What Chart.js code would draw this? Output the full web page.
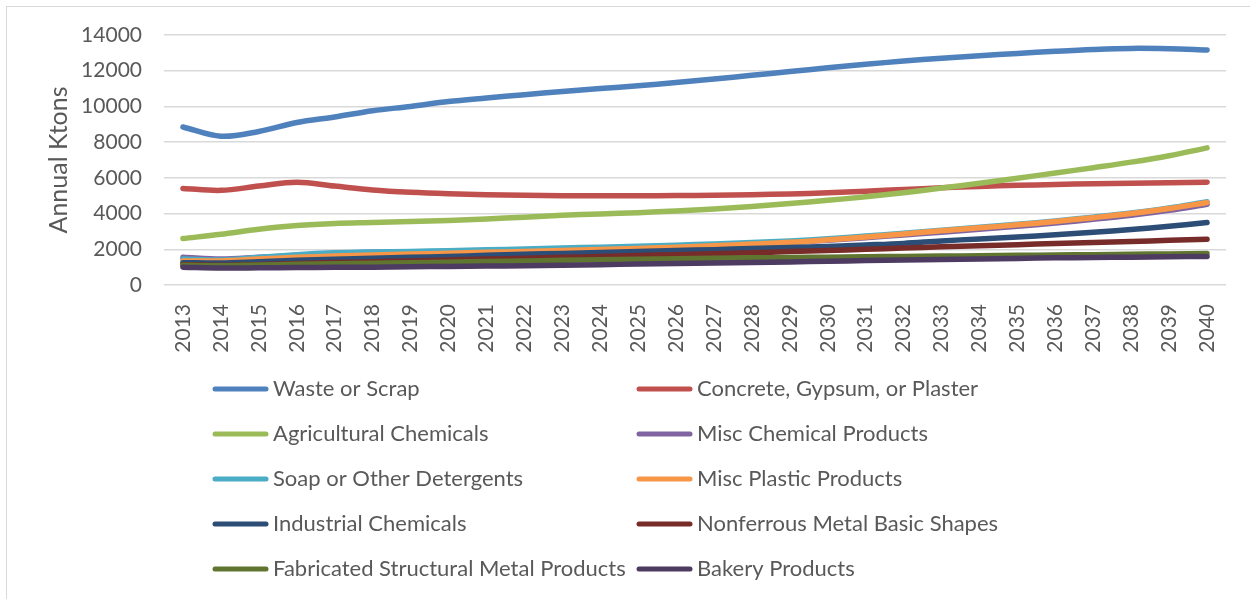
<!DOCTYPE html>
<html>
<head>
<meta charset="utf-8">
<script src="https://cdn.jsdelivr.net/npm/chart.js@4.4.1/dist/chart.umd.min.js"></script>
<style>
  html, body { margin: 0; padding: 0; background: #fff; overflow: hidden; }
  #frame { position: absolute; left: 6px; top: 6px; width: 1300px; height: 700px; border: 1px solid #d9d9d9; }
  #wrap { position: absolute; left: 0; top: 0; width: 1250px; height: 599px; }
</style>
</head>
<body>
<div id="frame"></div>
<div id="wrap"><canvas id="freightChart" width="1250" height="599"></canvas></div>
<script>
// Annual freight tonnage forecast by commodity (Ktons)
const years = ['2013', '2014', '2015', '2016', '2017', '2018', '2019', '2020', '2021', '2022',
  '2023', '2024', '2025', '2026', '2027', '2028', '2029', '2030', '2031', '2032',
  '2033', '2034', '2035', '2036', '2037', '2038', '2039', '2040'];

const wasteScrap = [8850, 8330, 8600, 9100, 9410, 9760, 10000, 10270, 10470, 10660,
  10840, 11000, 11160, 11340, 11530, 11740, 11950, 12160, 12360, 12540,
  12700, 12840, 12970, 13090, 13190, 13250, 13230, 13160];
const concrete = [5410, 5300, 5540, 5760, 5540, 5320, 5190, 5110, 5060, 5030,
  5000, 5000, 5000, 5010, 5030, 5060, 5100, 5160, 5250, 5350,
  5440, 5520, 5580, 5630, 5670, 5700, 5730, 5760];
const agChemicals = [2600, 2840, 3120, 3330, 3450, 3500, 3550, 3610, 3700, 3800,
  3900, 3980, 4050, 4150, 4260, 4400, 4560, 4740, 4940, 5170,
  5430, 5700, 5980, 6270, 6570, 6880, 7240, 7680];
const miscChemical = [1550, 1450, 1550, 1650, 1780, 1830, 1850, 1880, 1920, 1960,
  2000, 2050, 2100, 2160, 2230, 2310, 2400, 2510, 2650, 2800,
  2960, 3120, 3290, 3470, 3680, 3910, 4180, 4520];
const soapDetergents = [1450, 1400, 1550, 1700, 1800, 1850, 1880, 1920, 1970, 2020,
  2070, 2120, 2170, 2230, 2300, 2380, 2470, 2590, 2740, 2900,
  3070, 3230, 3400, 3590, 3800, 4030, 4310, 4660];
const miscPlastic = [1350, 1350, 1450, 1550, 1620, 1680, 1730, 1780, 1830, 1880,
  1930, 1990, 2050, 2120, 2200, 2290, 2390, 2530, 2690, 2860,
  3040, 3200, 3370, 3560, 3770, 4000, 4280, 4620];
const industrialChem = [1250, 1230, 1300, 1380, 1440, 1500, 1550, 1600, 1660, 1720,
  1770, 1820, 1870, 1930, 1980, 2040, 2100, 2160, 2240, 2330,
  2470, 2580, 2690, 2810, 2950, 3110, 3290, 3500];
const nonferrous = [1150, 1100, 1150, 1200, 1260, 1300, 1350, 1400, 1450, 1500,
  1550, 1600, 1650, 1700, 1750, 1810, 1870, 1930, 2000, 2070,
  2140, 2200, 2260, 2320, 2380, 2440, 2500, 2560];
const fabricatedMetal = [1100, 1080, 1120, 1160, 1190, 1220, 1250, 1280, 1320, 1350,
  1380, 1410, 1440, 1470, 1500, 1520, 1540, 1560, 1580, 1600,
  1620, 1640, 1660, 1680, 1700, 1720, 1740, 1770];
const bakery = [1000, 950, 960, 980, 990, 1000, 1020, 1040, 1060, 1080,
  1110, 1140, 1170, 1200, 1230, 1260, 1290, 1330, 1370, 1400,
  1430, 1460, 1490, 1520, 1540, 1560, 1580, 1600];

const seriesNames = ['Waste or Scrap', 'Concrete, Gypsum, or Plaster', 'Agricultural Chemicals',
  'Misc Chemical Products', 'Soap or Other Detergents', 'Misc Plastic Products',
  'Industrial Chemicals', 'Nonferrous Metal Basic Shapes',
  'Fabricated Structural Metal Products', 'Bakery Products'];
const seriesData = [wasteScrap, concrete, agChemicals, miscChemical, soapDetergents,
  miscPlastic, industrialChem, nonferrous, fabricatedMetal, bakery];
const seriesColors = ['#4F81BD', '#C0504D', '#9BBB59', '#8064A2', '#4BACC6',
  '#F79646', '#2C4D75', '#772C2A', '#5F7530', '#4D3B62'];

const yTicks = [0, 2000, 4000, 6000, 8000, 10000, 12000, 14000];

const FONT = 'Lato, "Open Sans", sans-serif';
const TEXT_COLOR = '#595959';

// two-column legend under the axis
const gridLegend = {
  id: 'gridLegend',
  afterDraw(chart) {
    const ctx = chart.ctx;
    const colX = [215, 639];
    ctx.save();
    ctx.font = '22px ' + FONT;
    ctx.textBaseline = 'middle';
    ctx.textAlign = 'left';
    chart.data.datasets.forEach((ds, i) => {
      const x = colX[i % 2];
      const y = 389 + Math.floor(i / 2) * 45;
      ctx.strokeStyle = ds.borderColor;
      ctx.lineWidth = 5;
      ctx.lineCap = 'round';
      ctx.beginPath();
      ctx.moveTo(x, y);
      ctx.lineTo(x + 51, y);
      ctx.stroke();
      ctx.fillStyle = TEXT_COLOR;
      ctx.fillText(ds.label, x + 58, y);
    });
    ctx.restore();
  }
};

const ctx = document.getElementById('freightChart').getContext('2d');
const freightChart = new Chart(ctx, {
  type: 'line',
  data: {
    labels: years,
    datasets: seriesNames.map((name, i) => ({
      label: name,
      data: seriesData[i],
      borderColor: seriesColors[i],
      backgroundColor: seriesColors[i],
      borderWidth: 5.5,
      borderCapStyle: 'round',
      borderJoinStyle: 'round',
      pointRadius: 0,
      tension: 0.35,
      order: seriesNames.length - i
    }))
  },
  options: {
    responsive: false,
    animation: false,
    layout: { padding: { left: 0, top: 35, right: 24, bottom: 234 } },
    plugins: {
      legend: { display: false },
      tooltip: { enabled: false }
    },
    scales: {
      x: {
        offset: true,
        grid: { display: false },
        border: { display: false },
        ticks: {
          autoSkip: false,
          minRotation: 90,
          maxRotation: 90,
          padding: 11,
          color: TEXT_COLOR,
          font: { family: FONT, size: 21 }
        },
        // taller box so the rotated year labels are not clipped
        afterFit(scale) { scale.height = 80; }
      },
      y: {
        min: 0,
        max: 14000,
        afterBuildTicks(scale) { scale.ticks = yTicks.map(v => ({ value: v })); },
        grid: { color: '#d9d9d9', lineWidth: 1.5, drawTicks: false },
        border: { display: false },
        ticks: {
          padding: 22,
          color: TEXT_COLOR,
          font: { family: FONT, size: 21 },
          callback: (value) => String(value)
        },
        title: {
          display: true,
          text: 'Annual Ktons',
          color: TEXT_COLOR,
          font: { family: FONT, size: 25 },
          padding: { top: 44, bottom: 0 }
        },
        afterFit(scale) { scale.width = 164; }
      }
    }
  },
  plugins: [gridLegend]
});
</script>
</body>
</html>
